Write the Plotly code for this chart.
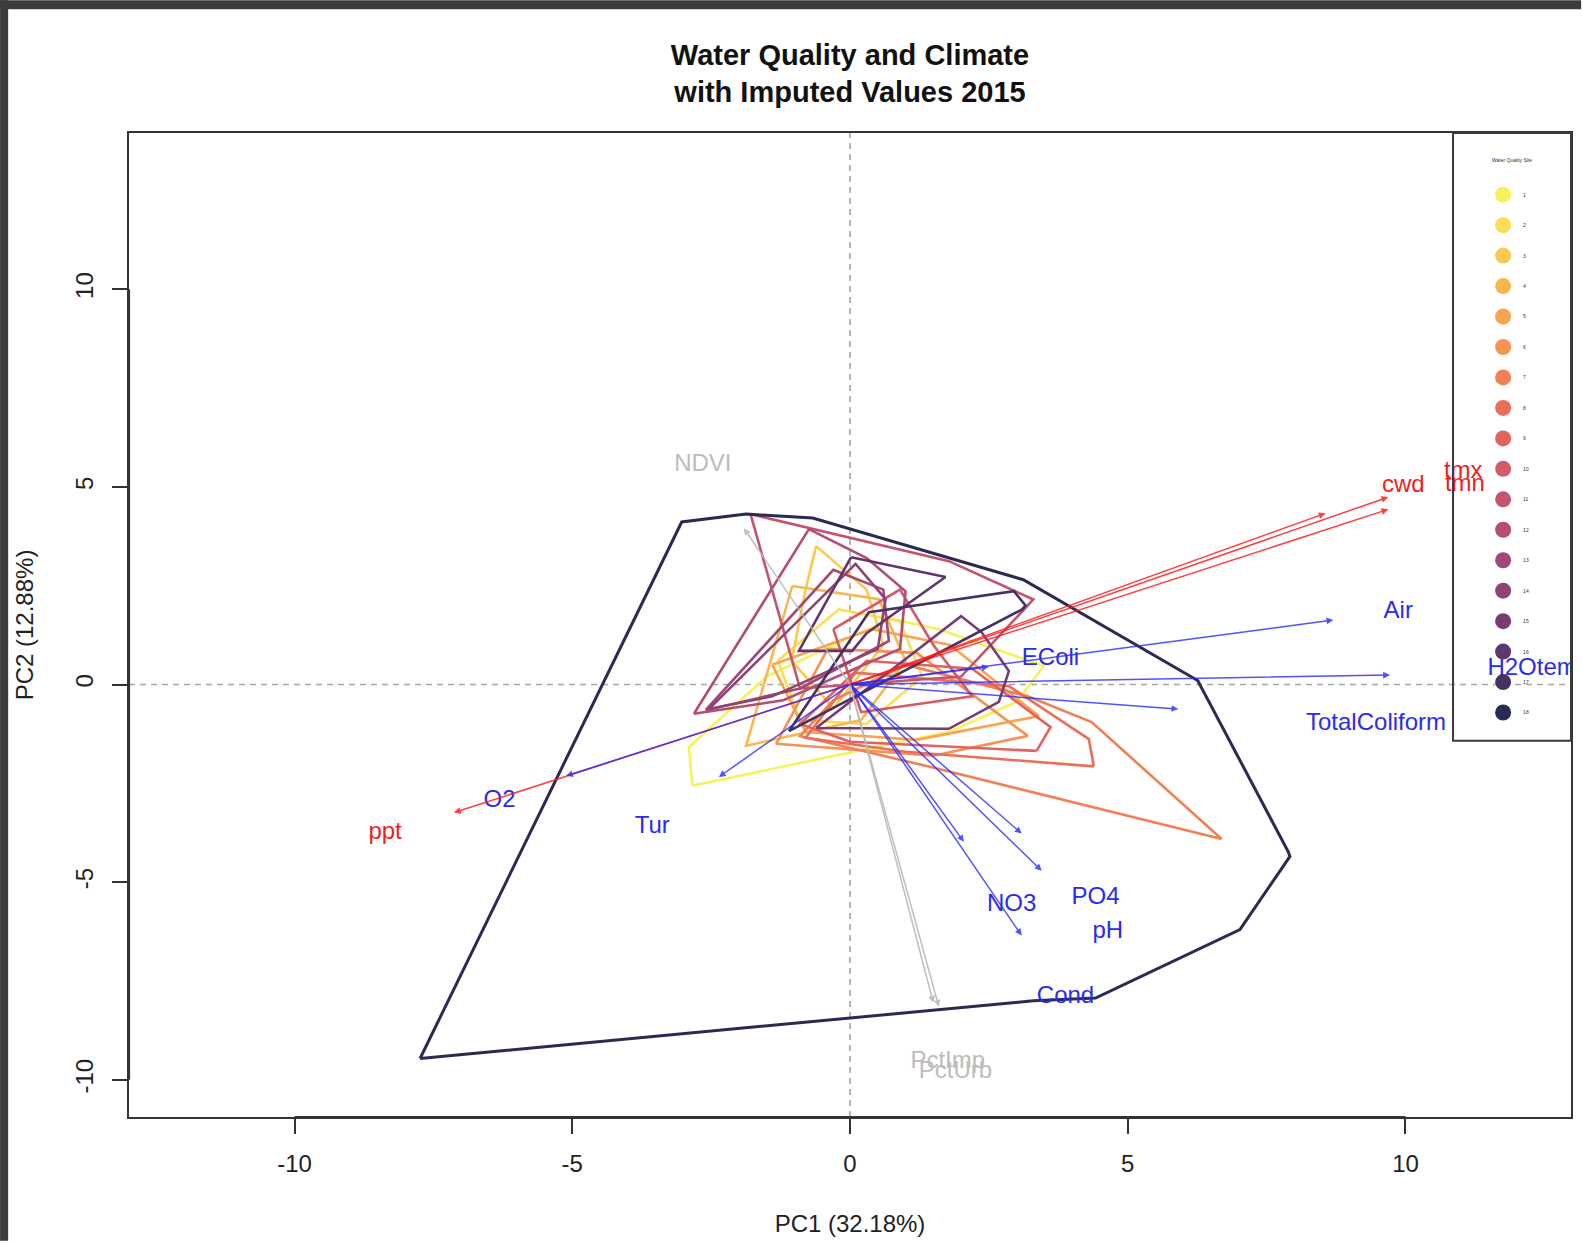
import plotly.graph_objects as go

# ---- PCA biplot data -------------------------------------------------------
# Convex hulls of the site scores (PC1, PC2), one polygon per water quality site
site01 = [(-2.84, -2.56), (-2.90, -1.58), (-1.50, 0.20), (-0.30, 1.00), (0.75, 1.66), (1.60, 1.40),
          (3.49, 0.47), (3.00, -0.44), (1.78, -1.20), (0.57, -1.55)]
site02 = [(-1.30, 0.60), (-0.20, 1.90), (0.90, 1.60), (1.30, 0.20), (0.30, -1.00), (-0.90, -0.90)]
site03 = [(-0.61, 3.50), (0.30, 2.40), (0.60, 1.00), (-0.30, -0.60), (-1.05, 0.60), (-0.80, 2.40)]
site04 = [(-1.04, 2.49), (0.52, 2.16), (1.00, 0.60), (0.20, -0.90), (-1.87, -1.55)]
site05 = [(-1.40, 0.50), (0.40, 1.40), (1.80, 1.00), (3.40, -0.80), (1.20, -1.40), (-0.80, -1.20)]
site06 = [(-1.33, -1.50), (-0.40, 0.90), (1.20, 0.80), (3.20, -1.30), (1.50, -1.80)]
site07 = [(6.69, -3.91), (1.40, -2.07), (-0.90, -1.30), (-0.30, -0.40), (1.00, 0.50), (3.20, -0.30),
          (4.35, -0.95)]
site08 = [(4.39, -2.07), (1.00, -1.70), (-0.80, -1.35), (0.10, 0.30), (2.86, -0.04), (4.30, -1.38)]
site09 = [(3.36, -1.68), (0.00, -1.45), (-0.90, -1.00), (0.30, 0.60), (2.20, 0.40), (3.61, -1.08)]
site10 = [(-0.30, 1.40), (0.90, 2.40), (1.50, 1.00), (2.20, -0.30), (0.20, -0.70)]
site11 = [(-1.79, 4.31), (1.78, 3.12), (3.30, 2.15), (2.00, 0.20), (-0.90, -0.10)]
site12 = [(-2.81, -0.74), (-0.74, 3.93), (0.30, 3.20), (1.00, 2.36), (0.90, 0.90), (-1.20, -0.40)]
site13 = [(-2.60, -0.65), (-0.30, 2.90), (0.60, 2.40), (0.70, 1.10), (-0.90, -0.10)]
site14 = [(-2.54, -0.62), (0.10, 3.05), (0.64, 2.16), (0.50, 0.90), (-1.40, -0.30)]
site15 = [(-0.61, -1.10), (2.00, 1.73), (2.37, 1.32), (2.86, 0.34), (2.68, -0.44), (1.78, -1.12)]
site16 = [(0.02, 3.22), (1.72, 2.72), (0.30, 1.30), (0.04, 0.85), (-0.92, 0.85)]
site17 = [(-1.10, -1.18), (0.34, 1.83), (2.95, 2.36), (3.16, 2.00), (3.10, 1.90)]
site18 = [(-7.74, -9.46), (-3.03, 4.11), (-1.87, 4.31), (-0.67, 4.21), (3.12, 2.65), (6.26, 0.10),
          (7.89, -4.23), (7.92, -4.35), (7.02, -6.20), (4.42, -7.93), (3.30, -8.00)]

site_hulls = [site01, site02, site03, site04, site05, site06, site07, site08, site09,
              site10, site11, site12, site13, site14, site15, site16, site17, site18]
site_names = [str(i) for i in range(1, 19)]
site_colors = ["#f6f25c", "#f8df56", "#f9ca4f", "#f9b74e", "#f8a452", "#f59354",
               "#f08055", "#ea6e58", "#e2625e", "#d45a67", "#c4546e", "#b44e71",
               "#a34874", "#8f4276", "#773c76", "#5f366f", "#463163", "#2a2a52"]

# Variable loadings (arrow tips) and where their names are written
var_names = ["tmx", "tmn", "cwd", "ppt",
             "Air", "H2Otemp", "TotalColiform", "EColi", "O2", "Tur", "NO3", "PO4", "pH", "Cond",
             "NDVI", "PctImp", "PctUrb"]
var_group = ["climate"] * 4 + ["water"] * 10 + ["land"] * 3
load_pc1 = [9.69, 9.69, 8.56, -7.13,
            8.70, 9.72, 5.91, 2.50, -5.11, -2.36, 3.09, 3.45, 3.09, 2.05,
            -1.91, 1.50, 1.60]
load_pc2 = [4.74, 4.43, 4.33, -3.24,
            1.63, 0.24, -0.62, 0.45, -2.31, -2.34, -6.35, -4.71, -3.77, -3.98,
            3.95, -8.05, -8.15]
label_pc1 = [11.04, 11.07, 9.96, -8.37,
             9.87, 12.40, 9.47, 3.61, -6.31, -3.56, 2.91, 4.42, 4.64, 3.88,
             -2.65, 1.76, 1.90]
label_pc2 = [5.37, 5.04, 5.02, -3.75,
             1.83, 0.39, -0.99, 0.64, -2.94, -3.60, -5.59, -5.39, -6.25, -7.90,
             5.54, -9.54, -9.79]

group_arrow_color = {"climate": "rgba(255,30,30,0.85)", "water": "rgba(40,40,255,0.8)",
                     "land": "rgba(185,185,185,0.9)"}
group_text_color = {"climate": "#f01e1e", "water": "#2b2bf0", "land": "#bcbcbc"}

x_ticks = [-10, -5, 0, 5, 10]
x_tick_text = ["-10", "-5", "0", "5", "10"]
y_ticks = [-10, -5, 0, 5, 10]
y_tick_text = ["-10", "-5", "0", "5", "10"]
x_range = [-12.98, 12.98]
y_range = [-10.94, 13.95]

# ---- figure ----------------------------------------------------------------
fig = go.Figure()

for name, hull, col in zip(site_names, site_hulls, site_colors):
    xs = [p[0] for p in hull] + [hull[0][0]]
    ys = [p[1] for p in hull] + [hull[0][1]]
    width = 3 if name == "18" else 2.6
    fig.add_trace(go.Scatter(x=xs, y=ys, mode="lines", line=dict(color=col, width=width),
                             showlegend=False, hoverinfo="skip"))

# variable names
for grp in ["climate", "water", "land"]:
    idx = [i for i, g in enumerate(var_group) if g == grp]
    fig.add_trace(go.Scatter(
        x=[label_pc1[i] for i in idx], y=[label_pc2[i] for i in idx],
        text=[var_names[i] for i in idx], mode="text",
        textfont=dict(family="Liberation Sans, Arial, sans-serif", size=24,
                      color=group_text_color[grp]),
        textposition="middle center", showlegend=False, hoverinfo="skip", cliponaxis=True))

# legend entries: one filled circle per site
for name, col in zip(site_names, site_colors):
    fig.add_trace(go.Scatter(x=[None], y=[None], mode="markers", name=name,
                             legendgroup=name,
                             marker=dict(color=col, size=16, symbol="circle")))

# loading arrows from the origin
for i in range(len(var_names)):
    fig.add_annotation(x=load_pc1[i], y=load_pc2[i], ax=0, ay=0,
                       xref="x", yref="y", axref="x", ayref="y",
                       text="", showarrow=True, arrowhead=2, arrowsize=0.9,
                       arrowwidth=1.5, arrowcolor=group_arrow_color[var_group[i]])

# legend heading
fig.add_annotation(x=(1514 - 129) / 1444, y=1 - (160.5 - 133) / 986, xref="paper", yref="paper",
                   text="Water Quality Site", showarrow=False,
                   font=dict(family="Liberation Sans, Arial, sans-serif", size=5, color="#333333"),
                   xanchor="center", yanchor="middle")

shapes = [
    # dashed reference lines through the origin
    dict(type="line", xref="x", yref="paper", x0=0, x1=0, y0=0, y1=1,
         line=dict(color="#a6a6a6", width=1.6, dash="6px,5px"), layer="below"),
    dict(type="line", xref="paper", yref="y", x0=0, x1=1, y0=0, y1=0,
         line=dict(color="#a6a6a6", width=1.6, dash="6px,5px"), layer="below"),
    # axis lines spanning the tick range
    dict(type="line", xref="x", yref="paper", x0=x_ticks[0], x1=x_ticks[-1], y0=0, y1=0,
         line=dict(color="#333333", width=2.2)),
    dict(type="line", xref="paper", yref="y", x0=0, x1=0, y0=y_ticks[0], y1=y_ticks[-1],
         line=dict(color="#333333", width=2.2)),
    # legend frame
    dict(type="rect", xref="paper", yref="paper", x0=0.9182, x1=1.0, y0=0.3824, y1=1.0,
         line=dict(color="#3a3a3a", width=2), fillcolor="rgba(0,0,0,0)"),
    # window frame around the page
    dict(type="rect", xref="paper", yref="paper", x0=-0.0894, x1=-0.0838, y0=-0.1258, y1=1.1349,
         line=dict(width=0), fillcolor="#3c3c3c"),
    dict(type="rect", xref="paper", yref="paper", x0=-0.0894, x1=1.0070, y0=1.1258, y1=1.1349,
         line=dict(width=0), fillcolor="#3c3c3c"),
]

axis_font = dict(family="Liberation Sans, Arial, sans-serif", size=24, color="#222222")

fig.update_layout(
    width=1583, height=1243,
    margin=dict(l=129, r=10, t=133, b=124),
    paper_bgcolor="white", plot_bgcolor="white",
    title=dict(text="Water Quality and Climate<br>with Imputed Values 2015",
               font=dict(family="Liberation Sans, Arial, sans-serif", size=29, color="#111111",
                         weight="bold"),
               x=0.5, xref="paper", xanchor="center",
               y=1 - 64.5 / 1243, yref="container", yanchor="middle"),
    xaxis=dict(range=x_range, tickvals=x_ticks, ticktext=x_tick_text, ticks="outside",
               ticklen=15, tickwidth=1.5,
               tickcolor="#333333", showgrid=False, zeroline=False,
               showline=True, mirror=True, linecolor="#333333", linewidth=2,
               tickfont=axis_font, ticklabelstandoff=9,
               title=dict(text="PC1 (32.18%)", font=axis_font, standoff=39)),
    yaxis=dict(range=y_range, tickvals=y_ticks, ticktext=y_tick_text, ticks="outside",
               ticklen=15, tickwidth=1.5,
               tickcolor="#333333", showgrid=False, zeroline=False, tickangle=-90,
               showline=True, mirror=True, linecolor="#333333", linewidth=2,
               tickfont=axis_font, ticklabelstandoff=9,
               title=dict(text="PC2 (12.88%)", font=axis_font, standoff=31)),
    showlegend=True,
    legend=dict(x=(1485 - 129) / 1444, y=1 - (180.3 - 133) / 986, xanchor="left", yanchor="top",
                bgcolor="rgba(0,0,0,0)", borderwidth=0,
                font=dict(family="Liberation Sans, Arial, sans-serif", size=5, color="#333333"),
                tracegroupgap=11.46, traceorder="grouped", itemwidth=30),
    shapes=shapes,
)

fig.write_html("out.html")
